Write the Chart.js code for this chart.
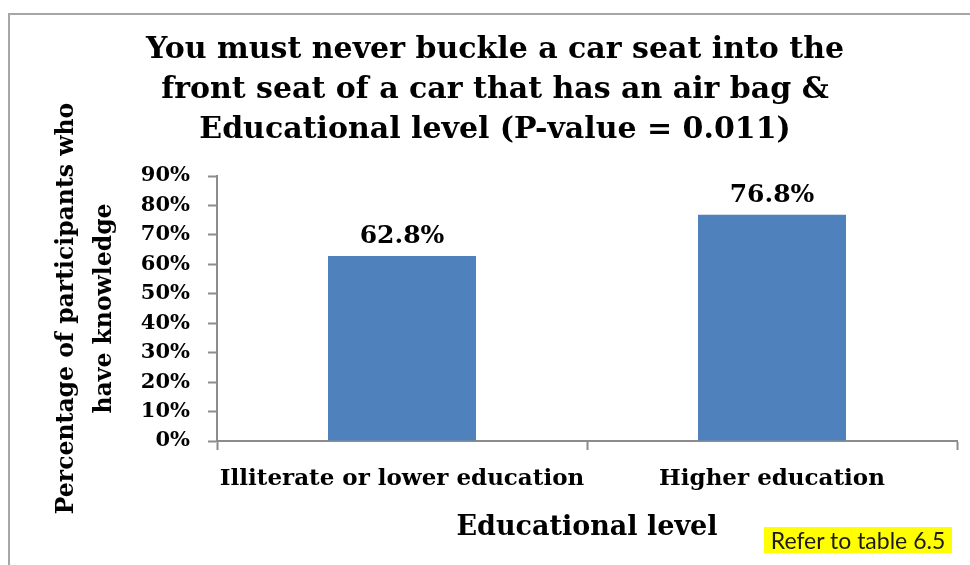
<!DOCTYPE html>
<html>
<head>
<meta charset="utf-8">
<title>Car seat knowledge by educational level</title>
<script src="https://cdn.jsdelivr.net/npm/chart.js@4.4.0/dist/chart.umd.min.js"></script>
<style>
  html, body { margin: 0; padding: 0; background: #fff; overflow: hidden; }
  #wrap { position: relative; width: 970px; height: 565px; overflow: hidden; }
  #frame { position: absolute; left: 8px; top: 13px; width: 1000px; height: 600px; border: 2px solid #a6a6a6; }
  #chart { position: absolute; left: 0; top: 0; }
  #note {
    position: absolute; left: 764px; top: 527px; width: 188px; height: 26px;
    background: #ffff00; color: #1a1a1a; font: 23px Lato, sans-serif;
    line-height: 26px; text-align: center; white-space: nowrap;
  }
</style>
</head>
<body>
<div id="wrap">
  <div id="frame"></div>
  <canvas id="chart" width="970" height="565"></canvas>
  <div id="note">Refer to table 6.5</div>
</div>
<script>
// data
const categories = ['Illiterate or lower education', 'Higher education'];
const knowledgePct = [62.8, 76.8];
const yMin = 0;
const yMax = 90;
const yStep = 10;

const titleLines = [
  'You must never buckle a car seat into the',
  'front seat of a car that has an air bag &',
  'Educational level (P-value = 0.011)'
];
const yTitleLines = ['Percentage of participants who', 'have knowledge'];
const xTitle = 'Educational level';

const serif = '"DejaVu Serif", serif';
const axisGray = '#8c8c8c';

// value labels above the bars
const barLabels = {
  id: 'barLabels',
  afterDatasetsDraw(chart) {
    const ctx = chart.ctx;
    ctx.save();
    ctx.font = 'bold 25px ' + serif;
    ctx.fillStyle = '#000';
    ctx.textAlign = 'center';
    ctx.textBaseline = 'alphabetic';
    chart.getDatasetMeta(0).data.forEach((bar, i) => {
      ctx.fillText(knowledgePct[i].toFixed(1) + '%', bar.x, bar.y - 13);
    });
    ctx.restore();
  }
};

const ctx = document.getElementById('chart');
new Chart(ctx, {
  type: 'bar',
  data: {
    labels: categories,
    datasets: [{
      label: 'Knowledge',
      data: knowledgePct,
      backgroundColor: '#4f81bd',
      borderWidth: 0,
      categoryPercentage: 1,
      barPercentage: 0.4
    }]
  },
  options: {
    responsive: false,
    animation: false,
    layout: { padding: { left: 33, right: 13, top: 0, bottom: 0 } },
    plugins: {
      legend: { display: false },
      tooltip: { enabled: false },
      title: {
        display: true,
        text: titleLines,
        color: '#000',
        font: { family: serif, size: 30, weight: 'bold', lineHeight: '40px' },
        padding: { top: 30, bottom: 26 }
      }
    },
    scales: {
      x: {
        grid: {
          drawOnChartArea: false,
          drawTicks: true,
          tickLength: 9,
          tickColor: axisGray,
          tickWidth: 2
        },
        border: { color: axisGray, width: 2 },
        ticks: {
          color: '#000',
          font: { family: serif, size: 23, weight: 'bold' },
          padding: 15,
          maxRotation: 0
        },
        title: {
          display: true,
          text: xTitle,
          color: '#000',
          font: { family: serif, size: 27, weight: 'bold' },
          padding: { top: 0, bottom: 21 }
        },
        afterFit(scale) { scale.height = 124; }
      },
      y: {
        min: yMin,
        max: yMax,
        grid: {
          drawOnChartArea: false,
          drawTicks: true,
          tickLength: 9,
          tickColor: axisGray,
          tickWidth: 2
        },
        border: { color: axisGray, width: 2 },
        ticks: {
          stepSize: yStep,
          autoSkip: false,
          color: '#000',
          font: { family: serif, size: 21, weight: 'bold', lineHeight: 1 },
          padding: 18,
          callback: v => v + '%'
        },
        title: {
          display: true,
          text: yTitleLines,
          color: '#000',
          font: { family: serif, size: 23.5, weight: 'bold', lineHeight: '38px' },
          padding: { top: 15, bottom: 0 }
        },
        afterFit(scale) { scale.width = 184; }
      }
    }
  },
  plugins: [barLabels]
});
</script>
</body>
</html>
